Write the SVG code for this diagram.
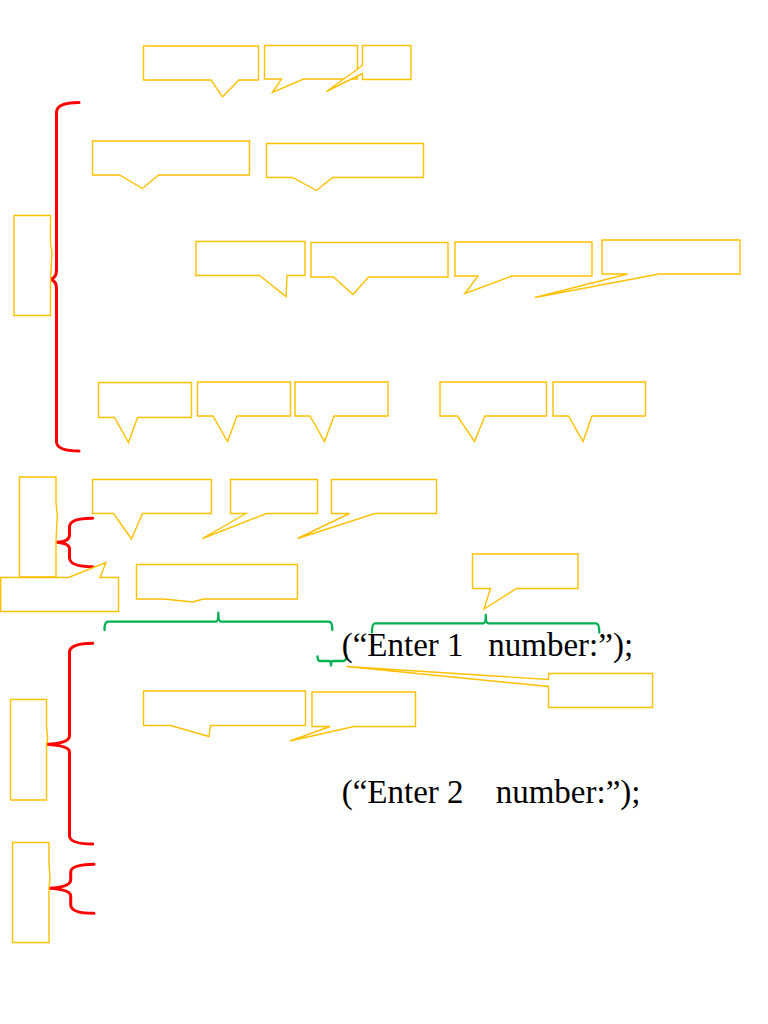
<svg xmlns="http://www.w3.org/2000/svg" width="768" height="1024" viewBox="0 0 768 1024">
<style>
.co{fill:#fff;stroke:#FFC000;stroke-width:1.4;stroke-linejoin:miter}
.rb{fill:none;stroke:#FF0000;stroke-width:3;stroke-linecap:round;stroke-linejoin:round}
.gb{fill:none;stroke:#00B050;stroke-width:2.3;stroke-linecap:round;stroke-linejoin:round}
.tx{font-family:"Liberation Serif","Times New Roman",serif;font-size:33px;fill:#000}
</style>
<rect width="768" height="1024" fill="#fff"/>
<g id="connectors">
<path class="rb" d="M79,102.5 Q57,102.5 56.5,112 L56.5,270 Q56.5,278 50.5,279.3 Q56.5,281 56.5,289 L56.5,442 Q57,451 79,451"/>
<path class="rb" d="M92.7,518.3 Q70,518 69.5,527 L69.5,535 Q69.5,541.5 57.3,542.3 Q69.5,543.5 69.5,549 L69.5,558 Q70,566.7 92.7,566.7"/>
<path class="rb" d="M92.7,643.3 Q70,643.5 69.5,652 L69.5,736 Q69.5,743 47.7,744.3 Q69.5,746 69.5,752 L69.5,836 Q70,844 92.7,844"/>
<path class="rb" d="M94,864.3 Q71,864.5 70.7,872 L70.7,880 Q70.7,887 49,888.3 Q70.7,889.5 70.7,896 L70.7,905 Q71,913.3 94,913.3"/>
<path class="gb" d="M104.5,630 Q104.5,621.7 108,621.7 L216,621.7 Q218.3,621.7 218.3,612.7 Q218.3,621.7 221,621.7 L329,621.7 Q332.3,621.7 332.3,630"/>
<path class="gb" d="M372,632.5 Q372,623.3 375,623.3 L483.5,623.3 Q485.8,623.3 485.8,615 Q485.8,623.3 488,623.3 L596,623.3 Q599.3,623.3 599.3,632.5"/>
<path class="gb" d="M317.5,656.5 Q317.5,661 320,661 L329,661 Q331,661 331,665.5 Q331,661 333,661 L343,661 Q346.5,661 346.5,655.5"/>
</g>
<g id="n-A"><path class="co" d="M143.5,46 H258.5 V80 H239 L222.5,97 L211,80 H143.5 Z"/></g>
<g id="n-B"><path class="co" d="M264.5,45.5 H357.5 V79 H303.5 L272.5,92.5 L281.5,79 H264.5 Z"/></g>
<g id="n-C"><path class="co" d="M362.5,45.5 H411 V79.5 H362.5 V73.5 L326.5,91.5 L362.5,65.5 Z"/></g>
<g id="n-D"><path class="co" d="M92.5,141 H249.5 V175 H158.5 L142.5,188.5 L119.5,175 H92.5 Z"/></g>
<g id="n-E"><path class="co" d="M266.5,143.5 H423.5 V177.5 H332.5 L316.5,190.5 L292.5,177.5 H266.5 Z"/></g>
<g id="n-F"><path class="co" d="M196,241.5 H305 V275.5 H287 L286,296.5 L259.5,275.5 H196 Z"/></g>
<g id="n-G"><path class="co" d="M311,242.5 H448 V277 H368.5 L353,294.5 L333.5,277 H311 Z"/></g>
<g id="n-H"><path class="co" d="M455,242 H592 V276 H512 L465,293.5 L478,276 H455 Z"/></g>
<g id="n-I"><path class="co" d="M602,240 H740 V274 H659 L535,297.5 L627.5,274 H602 Z"/></g>
<g id="n-J"><path class="co" d="M98.5,382.5 H191.5 V417.5 H137.5 L128.5,442.5 L114.5,417.5 H98.5 Z"/></g>
<g id="n-K"><path class="co" d="M197.5,382 H290.5 V416 H237 L227.5,441.5 L213,416 H197.5 Z"/></g>
<g id="n-L"><path class="co" d="M295,382 H388 V416 H334 L324.5,441.5 L310,416 H295 Z"/></g>
<g id="n-M"><path class="co" d="M440,382 H546.5 V416 H485 L474.5,441.5 L457.5,416 H440 Z"/></g>
<g id="n-N"><path class="co" d="M553,382 H645.5 V416 H592 L583,441.5 L568.5,416 H553 Z"/></g>
<g id="n-O"><path class="co" d="M14,215.5 H50.5 V243 L52,253 L50.5,279 V315.5 H14 Z"/></g>
<g id="n-P"><path class="co" d="M19.5,477 H56 V503 L57.3,515 L56,542 V577 H19.5 Z"/></g>
<g id="n-Q"><path class="co" d="M0.7,577.5 H68.5 L106,562.5 L100,577.5 H118.5 V611.5 H0.7 Z"/></g>
<g id="n-R"><path class="co" d="M92.5,479.5 H211.5 V513.5 H142.5 L131.5,539 L113.5,513.5 H92.5 Z"/></g>
<g id="n-S"><path class="co" d="M230.5,479.5 H317.5 V513.5 H266.5 L202.5,538.5 L246,513.5 H230.5 Z"/></g>
<g id="n-T"><path class="co" d="M331.5,479.5 H436.5 V513.5 H375 L297.5,538.5 L349.5,513.5 H331.5 Z"/></g>
<g id="n-U"><path class="co" d="M136.5,564.5 H297.5 V599 H203.5 L192.5,602 L163.5,599 H136.5 Z"/></g>
<g id="n-V"><path class="co" d="M472.5,554 H578 V588.5 H516.5 L484,609 L490.5,588.5 H472.5 Z"/></g>
<g id="n-W"><path class="co" d="M548.5,673.5 H652.5 V707.5 H548.5 V686.5 L346.5,666.5 L548.5,679.5 Z"/></g>
<g id="n-X"><path class="co" d="M143.5,691 H305.5 V725.5 H210.5 L209,736.5 L170.5,725.5 H143.5 Z"/></g>
<g id="n-Y"><path class="co" d="M312,692 H415.5 V726.5 H354 L290,741 L330,726.5 H312 Z"/></g>
<g id="n-Z1"><path class="co" d="M10.5,699.5 H46.5 V726.5 L47.7,738.5 L46.5,744.5 V800 H10.5 Z"/></g>
<g id="n-Z2"><path class="co" d="M12.5,842.5 H49 V863.5 L50,878.5 L49,888.5 V942.5 H12.5 Z"/></g>
<g id="text1"><text class="tx" y="656"><tspan x="341.7">(“Enter 1</tspan><tspan x="488.3">number:”);</tspan></text></g>
<g id="text2"><text class="tx" y="803"><tspan x="341.7">(“Enter 2</tspan><tspan x="495.7">number:”);</tspan></text></g>
</svg>
